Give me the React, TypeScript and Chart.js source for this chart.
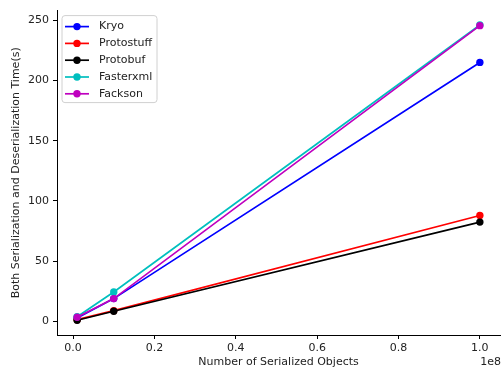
import React, { useEffect, useRef } from "react";
import { Chart, registerables } from "chart.js";

Chart.register(...registerables);

const xValues = [1e6, 1e7, 1e8];
const seriesNames = ["Kryo", "Protostuff", "Protobuf", "Fasterxml", "Fackson"];
const kryo = [3, 19, 215];
const protostuff = [1.5, 9, 88];
const protobuf = [1, 8.5, 82.5];
const fasterxml = [4, 24.5, 246];
const fackson = [3.5, 19, 245.5];
const seriesColors = ["#0000ff", "#ff0000", "#000000", "#00bfbf", "#bf00bf"];
const xTicks = [0, 2e7, 4e7, 6e7, 8e7, 1e8];
const yTicks = [0, 50, 100, 150, 200, 250];

const FONT = "'DejaVu Sans', sans-serif";
const TEXT = "#222222";

const overlayPlugin = {
  id: "overlay",
  afterDraw(chart: any) {
    const ctx = chart.ctx as CanvasRenderingContext2D;
    const area = chart.chartArea;
    ctx.save();
    ctx.font = `11px ${FONT}`;
    ctx.fillStyle = TEXT;
    ctx.textAlign = "right";
    ctx.textBaseline = "middle";
    ctx.fillText("1e8", 501, 362);

    const bx = area.left + 5;
    const by = area.top + 5;
    const bw = 95;
    const bh = 87;
    const r = 3;
    ctx.beginPath();
    ctx.moveTo(bx + r, by);
    ctx.lineTo(bx + bw - r, by);
    ctx.arcTo(bx + bw, by, bx + bw, by + r, r);
    ctx.lineTo(bx + bw, by + bh - r);
    ctx.arcTo(bx + bw, by + bh, bx + bw - r, by + bh, r);
    ctx.lineTo(bx + r, by + bh);
    ctx.arcTo(bx, by + bh, bx, by + bh - r, r);
    ctx.lineTo(bx, by + r);
    ctx.arcTo(bx, by, bx + r, by, r);
    ctx.closePath();
    ctx.fillStyle = "rgba(255,255,255,0.8)";
    ctx.fill();
    ctx.strokeStyle = "#d0d0d0";
    ctx.lineWidth = 1;
    ctx.stroke();

    seriesNames.forEach((name, i) => {
      const y = by + 11 + i * 16.8;
      const col = seriesColors[i];
      ctx.strokeStyle = col;
      ctx.lineWidth = 1.7;
      ctx.beginPath();
      ctx.moveTo(bx + 3, y);
      ctx.lineTo(bx + 27, y);
      ctx.stroke();
      ctx.fillStyle = col;
      ctx.beginPath();
      ctx.arc(bx + 15, y, 3.7, 0, Math.PI * 2);
      ctx.fill();
      ctx.fillStyle = TEXT;
      ctx.textAlign = "left";
      ctx.textBaseline = "middle";
      ctx.font = `11px ${FONT}`;
      ctx.fillText(name, bx + 37, y);
    });
    ctx.restore();
  },
};

export default function App() {
  const ref = useRef<HTMLCanvasElement>(null);
  useEffect(() => {
    const data = [kryo, protostuff, protobuf, fasterxml, fackson];
    const chart = new Chart(ref.current!, {
      type: "line",
      data: {
        datasets: seriesNames.map((name, i) => ({
          label: name,
          data: xValues.map((x, j) => ({ x, y: data[i][j] })),
          borderColor: seriesColors[i],
          backgroundColor: seriesColors[i],
          pointBackgroundColor: seriesColors[i],
          pointBorderColor: seriesColors[i],
          pointRadius: 3.7,
          pointBorderWidth: 0,
          borderWidth: 1.7,
          tension: 0,
          fill: false,
          order: seriesNames.length - i,
        })),
      },
      options: {
        responsive: false,
        animation: false,
        events: [],
        layout: { padding: { top: 8, right: 2, left: 0, bottom: 0 } },
        plugins: { legend: { display: false }, tooltip: { enabled: false } },
        scales: {
          x: {
            type: "linear",
            min: -3.95e6,
            max: 1.0495e8,
            afterBuildTicks: (s: any) => {
              s.ticks = xTicks.map((v) => ({ value: v }));
            },
            afterFit: (s: any) => {
              s.height = 36;
            },
            grid: {
              drawOnChartArea: false,
              drawTicks: true,
              tickLength: 4,
              color: "#000000",
            },
            border: { display: true, color: "#000000", width: 1 },
            ticks: {
              color: TEXT,
              font: { family: FONT, size: 11 },
              padding: 3,
              maxRotation: 0,
              autoSkip: false,
              callback: (v: any) => (Number(v) / 1e8).toFixed(1),
            },
            title: {
              display: true,
              text: "Number of Serialized Objects",
              color: TEXT,
              font: { family: FONT, size: 11 },
              padding: { top: 0, bottom: 2 },
            },
          },
          y: {
            type: "linear",
            min: -11.2,
            max: 258,
            afterBuildTicks: (s: any) => {
              s.ticks = yTicks.map((v) => ({ value: v }));
            },
            afterFit: (s: any) => {
              s.width = 57;
            },
            grid: {
              drawOnChartArea: false,
              drawTicks: true,
              tickLength: 4,
              color: "#000000",
            },
            border: { display: true, color: "#000000", width: 1 },
            ticks: {
              color: TEXT,
              font: { family: FONT, size: 11 },
              padding: 4,
              autoSkip: false,
              callback: (v: any) => String(v),
            },
            title: {
              display: true,
              text: "Both Serialization and Deserialization Time(s)",
              color: TEXT,
              font: { family: FONT, size: 11 },
              padding: { top: 10, bottom: 0 },
            },
          },
        },
      },
      plugins: [overlayPlugin],
    } as any);
    return () => chart.destroy();
  }, []);
  return (
    <div style={{ position: "absolute", left: 0, top: 0, width: 504, height: 371, background: "#fff" }}>
      <canvas ref={ref} width={504} height={371} style={{ display: "block" }} />
    </div>
  );
}
